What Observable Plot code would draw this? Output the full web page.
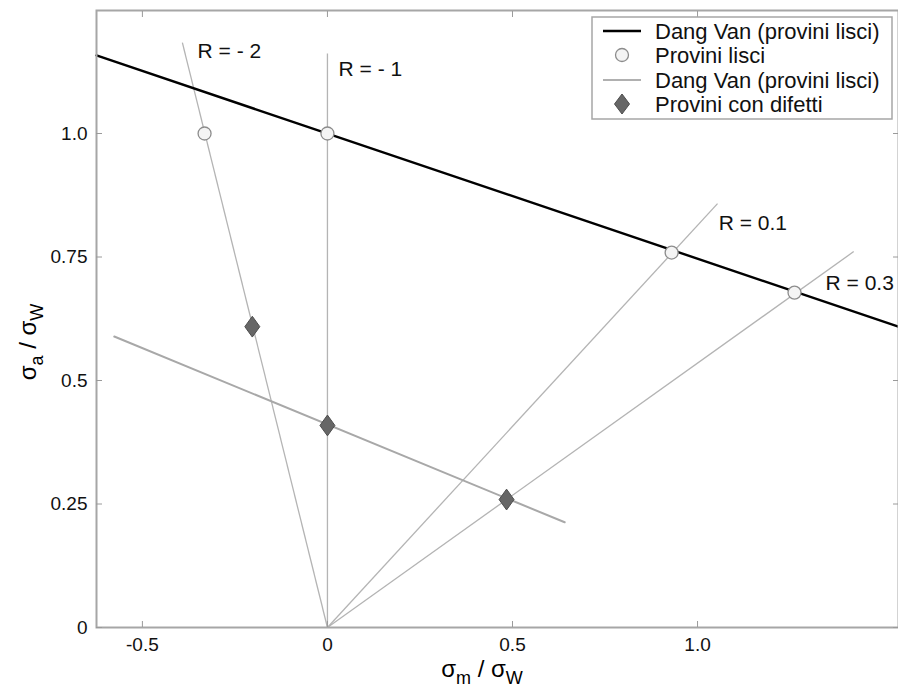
<!DOCTYPE html>
<html>
<head>
<meta charset="utf-8">
<script src="https://cdn.jsdelivr.net/npm/d3@7"></script>
<script src="https://cdn.jsdelivr.net/npm/@observablehq/plot@0.6"></script>
<style>
  html, body { margin: 0; padding: 0; background: #fff; }
  #chart { width: 898px; height: 693px; }
</style>
</head>
<body>
<div id="chart"></div>
<script>
// ---- data ----
const xDomain = [-0.624, 1.543];
const yDomain = [0, 1.249];
const xTicks = [-0.5, 0, 0.5, 1.0];
const xTickLabels = ["-0.5", "0", "0.5", "1.0"];
const yTicks = [0, 0.25, 0.5, 0.75, 1.0];
const yTickLabels = ["0", "0.25", "0.5", "0.75", "1.0"];

// Dang Van line (smooth specimens) – endpoints at plot edges
const dangVanX = [-0.624, 1.543];
const dangVanY = [1.158, 0.609];
// Dang Van line (specimens with defects)
const dangVanDefX = [-0.576, 0.641];
const dangVanDefY = [0.589, 0.213];

// Load-ratio lines from the origin
const rNames = ["R = - 2", "R = - 1", "R = 0.1", "R = 0.3"];
const rEndX = [-0.392, 0, 1.054, 1.422];
const rEndY = [1.184, 1.162, 0.858, 0.761];
const rLabelX = [-0.351, 0.03, 1.057, 1.346];
const rLabelY = [1.166, 1.130, 0.818, 0.696];

// Smooth specimens (circles)
const lisciX = [-0.332, 0, 0.93, 1.262];
const lisciY = [1.0, 1.0, 0.759, 0.678];
// Specimens with defects (diamonds)
const difettiX = [-0.203, 0, 0.484];
const difettiY = [0.609, 0.409, 0.259];

const legendLabels = ["Dang Van (provini lisci)", "Provini lisci", "Dang Van (provini lisci)", "Provini con difetti"];

// ---- tables built from the arrays ----
const pts = (xs, ys) => xs.map((x, i) => ({x, y: ys[i]}));
const rSegs = rNames.map((n, i) => ({name: n, x1: 0, y1: 0, x2: rEndX[i], y2: rEndY[i]}));
const rLabels = rNames.map((n, i) => ({name: n, x: rLabelX[i], y: rLabelY[i]}));

const diamond = {
  draw(ctx, size) {
    const r = Math.sqrt(size / Math.PI);
    const h = r * 1.6, w = r * 1.15;
    ctx.moveTo(0, -h); ctx.lineTo(w, 0); ctx.lineTo(0, h); ctx.lineTo(-w, 0); ctx.closePath();
  }
};

const font = "'Liberation Sans', Arial, Helvetica, sans-serif";
const axisGray = "#9a9a9a";

const svg = Plot.plot({
  width: 898,
  height: 693,
  marginLeft: 96,
  marginRight: 0,
  marginTop: 10,
  marginBottom: 66,
  style: {fontFamily: font, fontSize: "19px", background: "#fff", color: "#000"},
  x: {domain: xDomain},
  y: {domain: yDomain},
  marks: [
    // R lines
    Plot.link(rSegs, {x1: "x1", y1: "y1", x2: "x2", y2: "y2", stroke: "#b4b4b4", strokeWidth: 1.3}),
    // Dang Van defects line
    Plot.line(pts(dangVanDefX, dangVanDefY), {x: "x", y: "y", stroke: "#a8a8a8", strokeWidth: 2}),
    // Dang Van smooth line
    Plot.line(pts(dangVanX, dangVanY), {x: "x", y: "y", stroke: "#000", strokeWidth: 2.4}),
    // smooth specimens
    Plot.dot(pts(lisciX, lisciY), {x: "x", y: "y", r: 6.5, stroke: "#8c8c8c", strokeWidth: 1.3, fill: "#f4f4f4"}),
    // defect specimens
    Plot.dot(pts(difettiX, difettiY), {x: "x", y: "y", r: 6.5, symbol: diamond, fill: "#666", stroke: "#4d4d4d", strokeWidth: 1}),
    // R labels
    Plot.text(rLabels, {x: "x", y: "y", text: "name", textAnchor: "start", fontSize: 21, fill: "#111"}),
    // frame
    Plot.frame({stroke: "#a6a6a6", strokeWidth: 2}),
    // inward ticks
    Plot.axisX(xTicks, {anchor: "bottom", tickSize: -6, tickFormat: () => "", stroke: axisGray, label: null}),
    Plot.axisX(xTicks, {anchor: "top", tickSize: -6, tickFormat: () => "", stroke: axisGray, label: null}),
    Plot.axisY(yTicks, {anchor: "left", tickSize: -6, tickFormat: () => "", stroke: axisGray, label: null}),
    Plot.axisY(yTicks, {anchor: "right", tickSize: -6, tickFormat: () => "", stroke: axisGray, label: null}),
    // tick labels
    Plot.axisX(xTicks, {anchor: "bottom", tickSize: 0, tickPadding: 10, fontSize: 19, fill: "#111", tickFormat: (d) => xTickLabels[xTicks.indexOf(d)], label: null}),
    Plot.axisY(yTicks, {anchor: "left", tickSize: 0, tickPadding: 9, fontSize: 19, fill: "#111", tickFormat: (d) => yTickLabels[yTicks.indexOf(d)], label: null})
  ]
});

// ---- axis titles and legend (layout added into the same SVG) ----
const s = d3.select(svg);

function sigmaTitle(g, sub1, sub2) {
  const t = g.append("text").attr("text-anchor", "middle").attr("font-family", font)
    .attr("font-size", 24).attr("fill", "#000");
  t.append("tspan").text("σ");
  t.append("tspan").attr("dy", 7).attr("font-size", 18).text(sub1);
  t.append("tspan").attr("dy", -7).text(" / σ");
  t.append("tspan").attr("dy", 7).attr("font-size", 18).text(sub2);
  return t;
}
sigmaTitle(s.append("g").attr("transform", "translate(482,677)"), "m", "W");
sigmaTitle(s.append("g").attr("transform", "translate(36,342) rotate(-90)"), "a", "W");

const lg = s.append("g").attr("transform", "translate(592,17)");
lg.append("rect").attr("x", 0).attr("y", 0).attr("width", 300).attr("height", 102)
  .attr("fill", "#fff").attr("stroke", "#a6a6a6").attr("stroke-width", 1.5);
const rowY = [14, 38, 63, 87];
legendLabels.forEach((lab, i) => {
  const y = rowY[i];
  if (i === 0) lg.append("line").attr("x1", 11).attr("x2", 49).attr("y1", y).attr("y2", y).attr("stroke", "#000").attr("stroke-width", 2.4);
  if (i === 2) lg.append("line").attr("x1", 11).attr("x2", 49).attr("y1", y).attr("y2", y).attr("stroke", "#b0b0b0").attr("stroke-width", 2);
  if (i === 1) lg.append("circle").attr("cx", 30).attr("cy", y).attr("r", 6.5).attr("fill", "#f4f4f4").attr("stroke", "#8c8c8c").attr("stroke-width", 1.3);
  if (i === 3) lg.append("path").attr("d", `M30,${y - 10}L37.5,${y}L30,${y + 10}L22.5,${y}Z`).attr("fill", "#666").attr("stroke", "#4d4d4d");
  lg.append("text").attr("x", 63).attr("y", y).attr("dy", "0.35em").attr("text-anchor", "start")
    .attr("font-family", font).attr("font-size", 22).attr("fill", "#111").text(lab);
});

document.getElementById("chart").appendChild(svg);
</script>
</body>
</html>
